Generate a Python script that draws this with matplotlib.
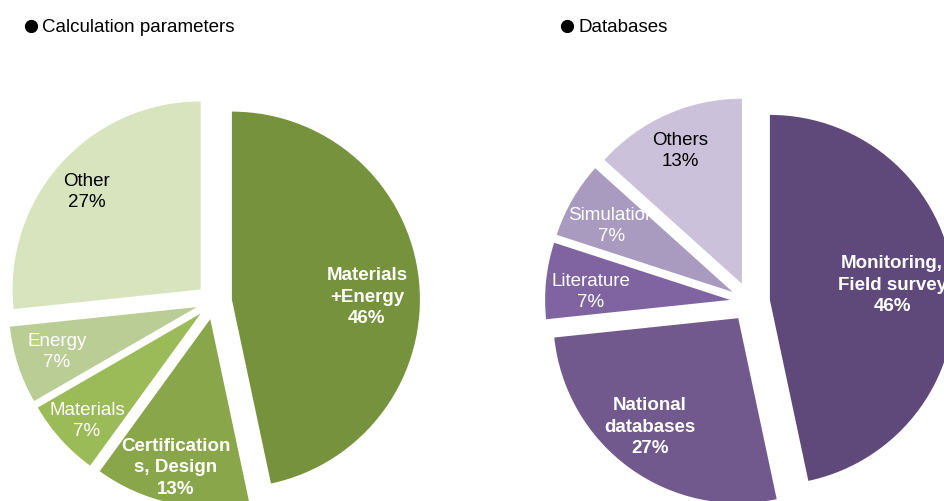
import matplotlib.pyplot as plt

plt.rcParams['font.family'] = ['Liberation Sans', 'DejaVu Sans']

# left pie: calculation parameters (number of studies, 15 in total)
calc_labels = ['Materials\n+Energy', 'Certification\ns, Design', 'Materials', 'Energy', 'Other']
calc_counts = [7, 2, 1, 1, 4]
calc_pct = ['46%', '13%', '7%', '7%', '27%']
calc_colors = ['#76923C', '#8AA64B', '#9BBB59', '#B9CD95', '#D7E4BD']

# right pie: databases
db_labels = ['Monitoring,\nField survey', 'National\ndatabases', 'Literature', 'Simulation', 'Others']
db_counts = [7, 4, 1, 1, 2]
db_pct = ['46%', '27%', '7%', '7%', '13%']
db_colors = ['#5F497A', '#71598E', '#8064A2', '#A89BBF', '#CBC1DA']

W, H = 945, 501
fig = plt.figure(figsize=(W / 100, H / 100), dpi=100)
ax = fig.add_axes([0, 0, 1, 1])


def draw_pie(values, labels, pct, colors, center, radius, expl, label_pos, bold, dark, clip=()):
    wedges, _ = ax.pie(values, colors=colors, radius=radius, center=center,
                       startangle=90, counterclock=False,
                       explode=[expl] * len(values),
                       wedgeprops=dict(linewidth=0), frame=True)
    for i, (w, lab, p) in enumerate(zip(wedges, labels, pct)):
        x, y = label_pos[i]
        t = ax.text(x, H - y, f'{lab}\n{p}', ha='center', va='center',
                    fontsize=13.5, linespacing=1.33,
                    color='black' if i in dark else 'white',
                    fontweight='bold' if i in bold else 'normal')
        if i in clip:
            t.set_clip_path(w)
    return wedges


draw_pie(calc_counts, calc_labels, calc_pct, calc_colors, (214, H - 301.5), 188, 18,
         [(367, 297), (176, 468), (87, 421), (57, 352), (87, 192)],
         bold=(0, 1), dark=(4,))
draw_pie(db_counts, db_labels, db_pct, db_colors, (750, H - 302), 185, 20,
         [(892, 285), (650, 427), (591, 292), (612, 226), (680, 151)],
         bold=(0, 1), dark=(4,), clip=(3,))

ax.set_xlim(0, W)
ax.set_ylim(0, H)
ax.set_aspect('equal')
ax.axis('off')

# section headings
ax.plot([31, 567], [H - 26, H - 26], 'o', color='black', markersize=8.5, linestyle='none')
ax.text(42, H - 27, 'Calculation parameters', ha='left', va='center', fontsize=13.5)
ax.text(579, H - 27, 'Databases', ha='left', va='center', fontsize=13.5)

fig.savefig('out.png', dpi=100)
